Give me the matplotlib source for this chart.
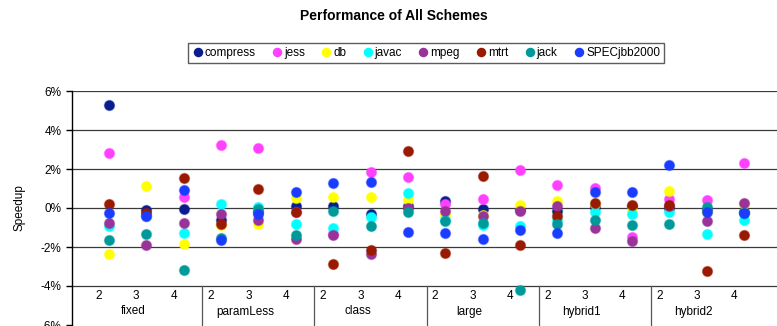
import matplotlib

matplotlib.use("Agg")
import matplotlib.pyplot as plt
from matplotlib.ticker import FuncFormatter, MultipleLocator
import numpy as np

plt.rcParams["font.family"] = ["Liberation Sans", "DejaVu Sans"]

# categories: 6 schemes x 3 settings
groups = ["fixed", "paramLess", "class", "large", "hybrid1", "hybrid2"]
settings = ["2", "3", "4"]

# speedup in percent, one value per (group, setting)
compress = [5.3, -0.1, -0.05, -0.6, -0.2, 0.1, 0.08, -0.3, 0.1,
            0.38, -0.05, -0.1, -0.15, 0.05, 0.1, 0.0, -0.1, -0.2]
jess = [2.8, -0.4, 0.55, 3.25, 3.1, -0.2, -1.35, 1.83, 1.57,
        0.21, 0.47, 1.95, 1.18, 1.03, -1.49, 0.47, 0.43, 2.31]
db = [-2.35, 1.13, -1.86, -0.88, -0.8, 0.52, 0.55, 0.55, 0.42,
      -0.35, -0.35, 0.13, 0.38, 0.2, -0.09, 0.89, -0.2, 0.2]
javac = [-0.9, -0.4, -1.27, 0.18, 0.04, -0.81, -1.01, -0.47, 0.76,
         -0.6, -0.89, -0.94, -0.6, -0.18, -0.3, -0.21, -1.35, -0.64]
mpeg = [-0.75, -1.88, -0.76, -0.33, -0.6, -1.6, -1.4, -2.34, 0.0,
        -0.13, -0.43, -0.16, 0.09, -1.01, -1.71, 0.1, -0.67, 0.25]
mtrt = [0.2, -0.25, 1.54, -0.81, 0.96, -0.21, -2.85, -2.13, 2.93,
        -2.3, 1.66, -1.91, -0.43, 0.26, 0.13, 0.13, -3.25, -1.4]
jack = [-1.62, -1.32, -3.19, -1.52, -0.04, -1.4, -0.16, -0.94, -0.21,
        -0.69, -0.77, -4.21, -0.81, -0.6, -0.89, -0.81, 0.04, -0.25]
specjbb = [-0.26, -0.43, 0.93, -1.66, -0.33, 0.81, 1.27, 1.32, -1.23,
           -1.28, -1.57, -1.11, -1.28, 0.81, 0.81, 2.2, -0.18, -0.24]

series = [
    ("compress", compress, "#0a1d8f"),
    ("jess", jess, "#ff40ff"),
    ("db", db, "#ffff00"),
    ("javac", javac, "#00ffff"),
    ("mpeg", mpeg, "#993399"),
    ("mtrt", mtrt, "#991a00"),
    ("jack", jack, "#009999"),
    ("SPECjbb2000", specjbb, "#1a3cff"),
]

x = np.arange(len(groups) * len(settings))

fig = plt.figure(figsize=(7.77, 3.26), dpi=100)
ax = fig.add_axes([72 / 777, 1 / 326, 705 / 777, 234 / 326])

for name, vals, color in series:
    # soft halo + solid core, like the fuzzy Excel markers
    ax.plot(x, vals, linestyle="none", marker="o", markersize=8.2,
            markeredgewidth=0, color=color, alpha=0.45)
    ax.plot(x, vals, linestyle="none", marker="o", markersize=7.2,
            markeredgewidth=0, color=color, label=name)

ax.set_xlim(-0.99, 17.88)
ax.set_ylim(-6, 6)
ax.yaxis.set_major_locator(MultipleLocator(2))
ax.yaxis.set_major_formatter(FuncFormatter(lambda v, _: f"{v:.0f}%"))
ax.tick_params(axis="y", labelsize=8.5, length=4, direction="out", width=1)
ax.set_xticks([])
for side in ("top", "right", "bottom"):
    ax.spines[side].set_visible(False)
ax.spines["left"].set_linewidth(1)
ax.set_ylabel("Speedup", fontsize=8.5, labelpad=11)

# horizontal grid, the -4% line doubles as the category axis
for yv in range(-4, 7, 2):
    ax.axhline(yv, color="#3a3a3a", linewidth=0.9, zorder=0)

# two-level category axis
for xi in x:
    ax.text(xi - 0.27, -4.2, settings[xi % 3], ha="center", va="top", fontsize=8.5)
for g, name in enumerate(groups):
    ax.text(3 * g + 1 - 0.35, -5.0, name, ha="center", va="top", fontsize=8.5)
    if g > 0:
        ax.plot([3 * g - 0.5, 3 * g - 0.5], [-4, -6], color="#555555",
                linewidth=0.9, clip_on=False)

fig.text(394 / 777, 1 - 15.5 / 326, "Performance of All Schemes",
         ha="center", va="center", fontsize=10, fontweight="bold")

leg = fig.legend(loc="center", bbox_to_anchor=(426 / 777, 1 - 53 / 326), ncol=8,
                 fontsize=8.5, frameon=True, fancybox=False, handletextpad=0.1,
                 columnspacing=1.3, handlelength=1.0, borderpad=0.35,
                 markerscale=0.95)
leg.get_frame().set_edgecolor("#333333")
leg.get_frame().set_linewidth(1.0)

fig.savefig("out.png", dpi=100)
